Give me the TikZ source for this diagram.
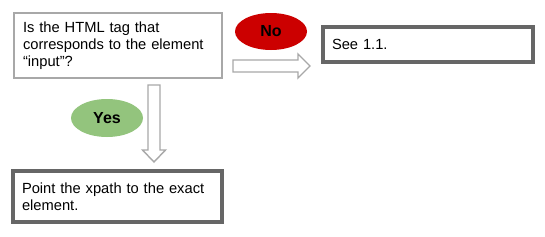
\documentclass[tikz,border=0pt]{standalone}
\usepackage{fontspec}
\setmainfont{Liberation Sans}
\usetikzlibrary{shapes.geometric}
\definecolor{lightframe}{HTML}{A8A8A8}
\definecolor{darkframe}{HTML}{666666}
\definecolor{noRed}{HTML}{CC0000}
\definecolor{yesGreen}{HTML}{93C47D}
\definecolor{arrowgray}{HTML}{A8A8A8}
\begin{document}
\begin{tikzpicture}[x=1pt,y=-1pt,
  boxtext/.style={align=left, inner xsep=9pt, inner ysep=0pt, fill=white,
    font=\fontsize{14.7}{16.8}\selectfont},
  lightbox/.style={boxtext, draw=lightframe, line width=1.5pt},
  darkbox/.style={boxtext, draw=darkframe, line width=3.5pt},
  tag/.style={ellipse, inner sep=0pt, minimum width=72pt, font=\fontsize{16}{19}\selectfont\bfseries},
  blockarrow/.style={draw=arrowgray, fill=white, line width=1.4pt, line join=miter}]
\useasboundingbox (0,0) rectangle (545,236);
\fill[white] (0,0) rectangle (545,236);

\node[lightbox, minimum width=208pt, minimum height=65pt, text width=190pt] (q) at (118,45.5)
  {Is the HTML tag that\\corresponds to the element\\“input”?};
\node[darkbox, minimum width=210pt, minimum height=35pt, text width=192pt] (see) at (428,44.5)
  {See 1.1.};
\node[darkbox, minimum width=209pt, minimum height=51pt, text width=191pt] (point) at (117.5,196.5)
  {Point the xpath to the exact\\element.};

\node[tag, fill=noRed, minimum height=37pt] (no) at (271,31.5) {No};
\node[tag, fill=yesGreen, minimum height=38pt] (yes) at (107,118) {Yes};

% right block arrow (q -> see)
\draw[blockarrow] (233,60) -- (298,60) -- (298,54) -- (310,66) -- (298,78) -- (298,72) -- (233,72) -- cycle;
% down block arrow (q -> point)
\draw[blockarrow] (148,85) -- (160,85) -- (160,150) -- (165.5,150) -- (154,162) -- (142.5,150) -- (148,150) -- cycle;
\end{tikzpicture}
\end{document}
